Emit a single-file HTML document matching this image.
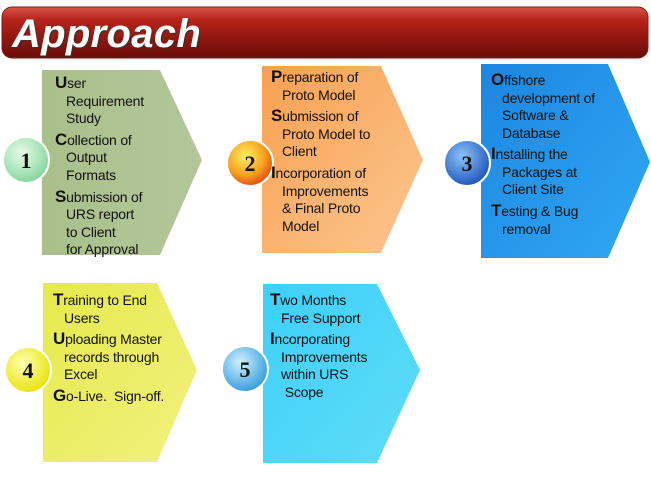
<!DOCTYPE html>
<html><head><meta charset="utf-8"><style>
body{margin:0;width:651px;height:490px;background:#fff;position:relative;overflow:hidden;font-family:"Liberation Sans",Arial,sans-serif}
svg{position:absolute;left:0;top:0}
.t{position:absolute;font-size:14px;line-height:17.5px;color:#111;white-space:nowrap;letter-spacing:-0.2px}
.t p{margin:0 0 3.3px 0;padding-left:11px;text-indent:-11px}
.t b{font-size:17px;font-weight:bold}
.title{position:absolute;left:12px;top:12px;font-size:40px;font-weight:bold;font-style:italic;color:#fff;text-shadow:1px 1px 1px #333;letter-spacing:0.3px}
</style></head><body>
<svg width="651" height="490">
<defs>
<linearGradient id="hd" x1="0" y1="0" x2="0" y2="1"><stop offset="0" stop-color="#d8554a"/><stop offset="0.25" stop-color="#b5231a"/><stop offset="1" stop-color="#6a0c08"/></linearGradient>
<linearGradient id="g1" x1="0" y1="0" x2="1" y2="0"><stop offset="0" stop-color="#a9c08a"/><stop offset="1" stop-color="#b2c79a"/></linearGradient>
<linearGradient id="g2" x1="0" y1="0" x2="1" y2="1"><stop offset="0" stop-color="#f8a050"/><stop offset="1" stop-color="#fcc690"/></linearGradient>
<linearGradient id="g3" x1="0" y1="0" x2="1" y2="1"><stop offset="0" stop-color="#1c86e0"/><stop offset="1" stop-color="#30a8f4"/></linearGradient>
<linearGradient id="g4" x1="0" y1="0" x2="1" y2="1"><stop offset="0" stop-color="#e6e94a"/><stop offset="1" stop-color="#f1f180"/></linearGradient>
<linearGradient id="g5" x1="0" y1="0" x2="1" y2="1"><stop offset="0" stop-color="#3dd0f8"/><stop offset="1" stop-color="#5fdcf8"/></linearGradient>
<radialGradient id="c1" cx="0.4" cy="0.35" r="0.7"><stop offset="0" stop-color="#e8fbe8"/><stop offset="1" stop-color="#7fd49a"/></radialGradient>
<radialGradient id="c2" cx="0.4" cy="0.35" r="0.7"><stop offset="0" stop-color="#fff060"/><stop offset="0.6" stop-color="#f8a020"/><stop offset="1" stop-color="#e04010"/></radialGradient>
<radialGradient id="c3" cx="0.4" cy="0.35" r="0.7"><stop offset="0" stop-color="#8ac4f8"/><stop offset="1" stop-color="#1a4fb8"/></radialGradient>
<radialGradient id="c4" cx="0.4" cy="0.35" r="0.7"><stop offset="0" stop-color="#ffffb0"/><stop offset="1" stop-color="#e8e000"/></radialGradient>
<radialGradient id="c5" cx="0.4" cy="0.35" r="0.7"><stop offset="0" stop-color="#d0f0ff"/><stop offset="1" stop-color="#2a98d8"/></radialGradient>
</defs>
<rect x="2" y="7" width="646" height="51" rx="10" fill="url(#hd)" stroke="#8a1a14"/>
<polygon points="42,70 160,70 202,160 160,255 42,255" fill="url(#g1)"/>
<polygon points="262,66 381,66 423,160 381,253 262,253" fill="url(#g2)"/>
<polygon points="481,64 608,64 650,162 608,258 481,258" fill="url(#g3)"/>
<polygon points="43,283 157,283 197,370 157,462 43,462" fill="url(#g4)"/>
<polygon points="263,284 377,284 420,370 377,463 263,463" fill="url(#g5)"/>
<g stroke="#fff" stroke-width="2">
<circle cx="26" cy="160" r="23" fill="url(#c1)"/>
<circle cx="250" cy="163" r="23" fill="url(#c2)"/>
<circle cx="467" cy="163" r="23" fill="url(#c3)"/>
<circle cx="28" cy="370" r="23" fill="url(#c4)"/>
<circle cx="245" cy="369" r="23" fill="url(#c5)"/>
</g>
<g font-family="Liberation Serif,serif" font-weight="bold" font-size="22" text-anchor="middle" fill="#111">
<text x="26" y="168">1</text><text x="250" y="171">2</text><text x="467" y="171">3</text><text x="28" y="378">4</text><text x="245" y="377">5</text>
</g>
</svg>
<div class="title">Approach</div>
<div class="t" style="left:55px;top:74px"><p><b>U</b>ser<br>Requirement<br>Study</p><p><b>C</b>ollection of<br>Output<br>Formats</p><p><b>S</b>ubmission of<br>URS report<br>to Client<br>for Approval</p></div>
<div class="t" style="left:271px;top:68px"><p><b>P</b>reparation of<br>Proto Model</p><p><b>S</b>ubmission of<br>Proto Model to<br>Client</p><p><b>I</b>ncorporation of<br>Improvements<br>&amp; Final Proto<br>Model</p></div>
<div class="t" style="left:491px;top:71px"><p><b>O</b>ffshore<br>development of<br>Software &amp;<br>Database</p><p><b>I</b>nstalling the<br>Packages at<br>Client Site</p><p><b>T</b>esting &amp; Bug<br>removal</p></div>
<div class="t" style="left:53px;top:291px"><p><b>T</b>raining to End<br>Users</p><p><b>U</b>ploading Master<br>records through<br>Excel</p><p><b>G</b>o-Live.&nbsp; Sign-off.</p></div>
<div class="t" style="left:270px;top:291px"><p><b>T</b>wo Months<br>Free Support</p><p><b>I</b>ncorporating<br>Improvements<br>within URS<br>&nbsp;Scope</p></div>
</body></html>
